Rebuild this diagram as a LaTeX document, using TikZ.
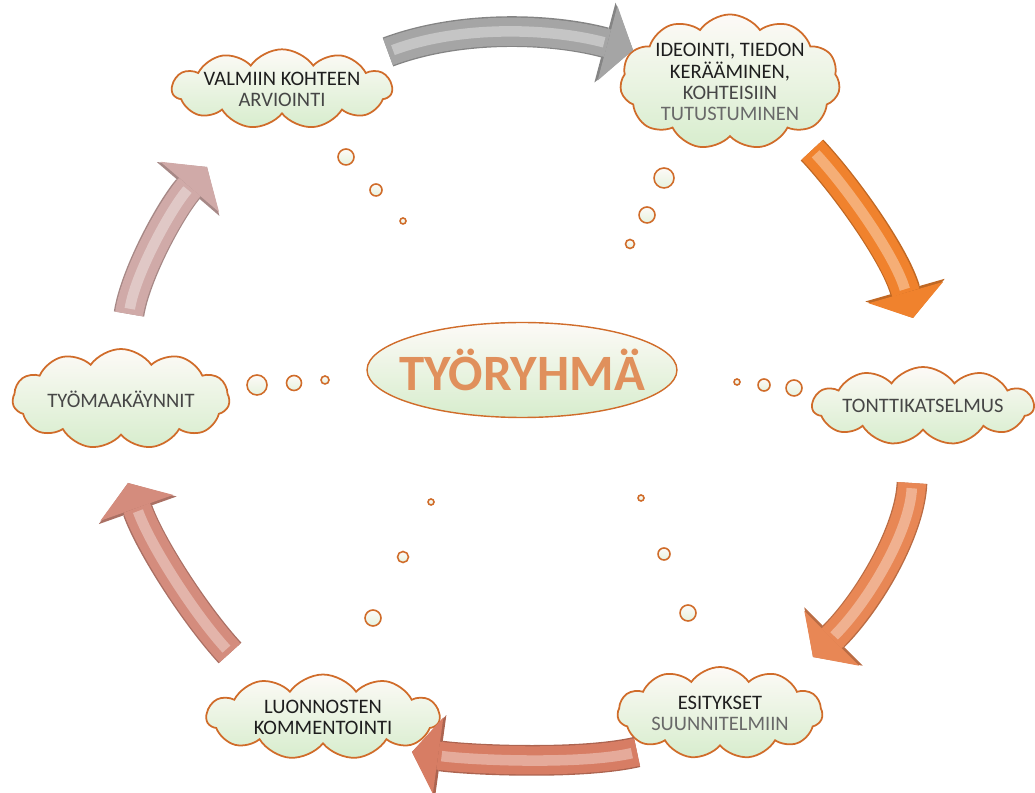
\documentclass[tikz,border=0pt]{standalone}
\usepackage{fontspec}
\setmainfont{Carlito}
\usetikzlibrary{shapes.geometric, shapes.symbols, arrows.meta}

\definecolor{cloudline}{RGB}{208,108,42}
\definecolor{cloudtop}{RGB}{253,250,247}
\definecolor{cloudbot}{RGB}{215,237,205}
\definecolor{hubtext}{RGB}{224,144,92}
\definecolor{txtdark}{RGB}{30,30,30}
\definecolor{txtmid}{RGB}{70,70,70}
\definecolor{txtlight}{RGB}{105,105,105}
\definecolor{arrgray}{RGB}{165,165,165}
\definecolor{arrorange}{RGB}{240,130,45}
\definecolor{arrcopper}{RGB}{232,135,85}
\definecolor{arrsalmon}{RGB}{215,125,100}
\definecolor{arrrose}{RGB}{212,140,125}
\definecolor{arrpink}{RGB}{208,170,168}

\begin{document}
\begin{tikzpicture}[x=0.02cm, y=-0.02cm,
    every node/.style={font=\fontsize{11.7}{12}\selectfont},
    cloudbox/.style={cloud, cloud puffs=11, cloud puff arc=110, cloud ignores aspect, draw=cloudline, line width=1pt, top color=cloudtop, middle color=cloudtop, bottom color=cloudbot, align=center, inner sep=0pt},
    hub/.style={ellipse, draw=cloudline, line width=0.8pt, top color=cloudtop, middle color=cloudtop!60!cloudbot, bottom color=cloudbot, minimum width=6.2cm, minimum height=1.9cm, inner sep=0pt},
    hubtitle/.style={text=hubtext, font=\fontsize{29}{32}\selectfont\bfseries},
    bubble/.style={circle, draw=cloudline, line width=0.9pt, top color=cloudtop, bottom color=cloudbot!60!cloudtop, inner sep=0pt, minimum size=#1},
    flow/.style={draw=#1, line width=16pt, -{Triangle[width=44pt, length=15pt, line width=0pt]},
        preaction={draw=#1!80!black, line width=17.5pt, -{Triangle[width=47pt, length=16.5pt, line width=0pt]}},
        postaction={draw=#1!65!white, line width=6pt, -, shorten >=17pt, shorten <=3pt}}
]
    \useasboundingbox (0,0) rectangle (1035,793);

    % Centre
    \node (hub) [hub] at (522,370) {};
    \node (hubtitle) [hubtitle] at (hub.center) {TYÖRYHMÄ};

    % Clouds
    \node (valmiin) [cloudbox, minimum width=4.4cm, minimum height=1.56cm] at (282,89)
        {\color{txtdark}VALMIIN KOHTEEN\\\color{txtmid}ARVIOINTI};
    \node (ideointi) [cloudbox, minimum width=4.4cm, minimum height=2.6cm] at (730,82)
        {\color{txtdark}IDEOINTI, TIEDON\\\color{txtdark}KERÄÄMINEN,\\\color{txtmid}KOHTEISIIN\\\color{txtlight}TUTUSTUMINEN};
    \node (tontti) [cloudbox, minimum width=4.4cm, minimum height=1.56cm] at (923,406)
        {\color{txtmid}TONTTIKATSELMUS};
    \node (esitykset) [cloudbox, minimum width=4.1cm, minimum height=1.84cm] at (720,713)
        {\color{txtdark}ESITYKSET\\\color{txtlight}SUUNNITELMIIN};
    \node (luonnos) [cloudbox, minimum width=4.66cm, minimum height=1.7cm] at (323,717)
        {\color{txtdark}LUONNOSTEN\\\color{txtdark}KOMMENTOINTI};
    \node (tyomaa) [cloudbox, minimum width=4.34cm, minimum height=2.0cm] at (121,399)
        {\color{txtmid}TYÖMAAKÄYNNIT};

    % Thought bubbles
    \node (b1a) [bubble=0.32cm] at (346,157) {};
    \node (b1b) [bubble=0.24cm] at (376,190) {};
    \node (b1c) [bubble=0.12cm] at (403,221) {};
    \node (b2a) [bubble=0.40cm] at (664,178) {};
    \node (b2b) [bubble=0.32cm] at (647,215) {};
    \node (b2c) [bubble=0.18cm] at (630,244) {};
    \node (b3a) [bubble=0.32cm] at (794,388) {};
    \node (b3b) [bubble=0.24cm] at (764,385) {};
    \node (b3c) [bubble=0.12cm] at (737,382) {};
    \node (b4a) [bubble=0.32cm] at (688,613) {};
    \node (b4b) [bubble=0.24cm] at (664,554) {};
    \node (b4c) [bubble=0.12cm] at (641,498) {};
    \node (b5a) [bubble=0.32cm] at (373,618) {};
    \node (b5b) [bubble=0.22cm] at (403,557) {};
    \node (b5c) [bubble=0.12cm] at (431,502) {};
    \node (b6a) [bubble=0.40cm] at (257,385) {};
    \node (b6b) [bubble=0.30cm] at (294,383) {};
    \node (b6c) [bubble=0.16cm] at (325,380) {};

    % Flow ends
    \coordinate (f1s) at (388,52);  \coordinate (f1e) at (633,50);
    \coordinate (f2s) at (812,150); \coordinate (f2e) at (913,318);
    \coordinate (f3s) at (912,483); \coordinate (f3e) at (813,657);
    \coordinate (f4s) at (637,752); \coordinate (f4e) at (412,752);
    \coordinate (f5s) at (230,653); \coordinate (f5e) at (128,483);
    \coordinate (f6s) at (129,314); \coordinate (f6e) at (207,167);

    % Cycle arrows
    \draw [flow=arrgray] (f1s) .. controls (460,25) and (550,28) .. (f1e);
    \draw [flow=arrorange] (f2s) .. controls (845,185) and (895,255) .. (f2e);
    \draw [flow=arrcopper] (f3s) .. controls (910,530) and (870,600) .. (f3e);
    \draw [flow=arrsalmon] (f4s) .. controls (580,765) and (470,760) .. (f4e);
    \draw [flow=arrrose] (f5s) .. controls (195,615) and (150,545) .. (f5e);
    \draw [flow=arrpink] (f6s) .. controls (135,275) and (170,210) .. (f6e);

\end{tikzpicture}
\end{document}
